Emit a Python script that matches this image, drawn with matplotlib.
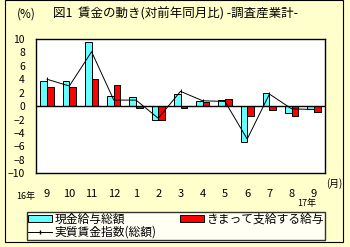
import matplotlib.pyplot as plt
import matplotlib.patches as mpatches
from matplotlib.lines import Line2D
import numpy as np

plt.rcParams['font.family'] = ['Noto Sans CJK JP', 'DejaVu Sans']

months = ['9', '10', '11', '12', '1', '2', '3', '4', '5', '6', '7', '8', '9']
genkin = [3.7, 3.7, 9.5, 1.5, 1.3, -2.0, 1.8, 0.7, 0.9, -5.3, 1.9, -1.0, -0.4]
kimatte = [2.9, 2.9, 4.0, 3.1, -0.3, -2.0, -0.3, 0.6, 1.0, -1.5, -0.6, -1.5, -0.9]
jisshitsu = [4.0, 3.0, 8.1, 0.9, 0.9, -1.8, 2.2, 0.8, 0.7, -4.9, 1.8, -0.4, -0.5]

fig = plt.figure(figsize=(3.5, 2.47), dpi=100)
fig.patch.set_facecolor('#FFFFCC')
fig.add_artist(mpatches.Rectangle((5 / 350, 5 / 247), 338 / 350, 242 / 247,
                                  transform=fig.transFigure, fill=False,
                                  edgecolor='black', lw=0.8))

ax = fig.add_axes([36 / 350, 1 - 173.3 / 247, 289 / 350, 134.3 / 247])
ax.set_facecolor('white')

x = np.arange(len(months))
w = 0.3
ax.bar(x - w / 2, genkin, w, color='#66FFFF', edgecolor='black', lw=0.7)
ax.bar(x + w / 2, kimatte, w, color='#FF0000', edgecolor='black', lw=0.7)
ax.plot(x, jisshitsu, color='black', lw=0.7, marker='|', ms=3, mew=0.7)
ax.axhline(0, color='black', lw=1)

ax.set_xlim(-0.5, len(months) - 0.5)
ax.set_ylim(-10, 10)
ax.set_yticks(range(-10, 11, 2))
ax.set_xticks(x)
ax.set_xticklabels(months, fontsize=8)
ax.tick_params(axis='y', labelsize=7.5, length=0, pad=8)
ax.tick_params(axis='x', length=0, pad=11)
for s in ax.spines.values():
    s.set_linewidth(1)

fig.text(17 / 350, 1 - 14 / 247, '(%)', fontsize=8.5, va='center')
fig.text(53 / 350, 1 - 14 / 247, '図1  賃金の動き(対前年同月比) -調査産業計-',
         fontsize=9, va='center')
fig.text(16 / 350, 1 - 196 / 247, '16年', fontsize=6.5, va='center')
fig.text(297 / 350, 1 - 203 / 247, '17年', fontsize=6.5, va='center')
fig.text(326 / 350, 1 - 184 / 247, '(月)', fontsize=7, va='center')

handles = [mpatches.Patch(facecolor='#66FFFF', edgecolor='black', lw=0.7),
           Line2D([], [], color='black', lw=0.7, marker='|', ms=3),
           mpatches.Patch(facecolor='#FF0000', edgecolor='black', lw=0.7)]
labels = ['現金給与総額', '実質賃金指数(総額)', 'きまって支給する給与']
leg = fig.legend(handles, labels, ncol=2, loc='lower left',
                 bbox_to_anchor=(27 / 350, 1 - 240 / 247, 298 / 350, 29 / 247),
                 mode='expand', fontsize=8.5, frameon=True, fancybox=False,
                 edgecolor='black', borderpad=0.1, labelspacing=0.0,
                 handlelength=2.0, handleheight=0.6, handletextpad=0.2,
                 columnspacing=1.0, borderaxespad=0)
leg.get_frame().set_linewidth(1)

plt.savefig('out.png', facecolor=fig.get_facecolor())
